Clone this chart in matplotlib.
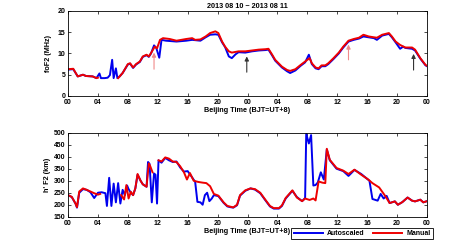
import numpy as np
import matplotlib
matplotlib.use("Agg")
import matplotlib.pyplot as plt

nan = np.nan

# --- foF2 (MHz), hours since 2013-08-10 00 BJT ---
t_fo_auto = [0, 0.7, 1.3, 2.0, 2.4, 3.3, 3.8, 4.2, 4.4, 4.9, 5.3, 5.6, 5.9, 6.1, 6.4, 6.6, 6.9, 7.3,
             8.0, 8.3, 8.7, 9.1, 9.6, 10.0, 10.5, 10.8, 11.1, 11.5, 11.8, 12.2, 12.5, 13.1,
             14.5, 15.8, 16.6, 17.7, 18.4, 19.0, 19.7, 20.1, 20.6, 21.0, 21.5, 21.9, 22.4, 22.8, 23.7,
             24.6, 25.5, 26.4, 26.8, 27.3, 27.7, 28.6, 29.3, 29.7, 30.4, 31.1, 31.7,
             32.2, 32.6, 33.1, 33.5, 33.9, 34.4, 34.8, 35.5, 36.2, 36.8, 37.5, 38.2, 38.9, 39.5,
             40.2, 40.9, 41.3, 42.0, 42.9, 43.3, 43.8, 44.4, 44.8, 45.1, 46.0, 46.4, 47.1, 47.8, 48.0]
fo_auto = [6.2, 6.3, 4.6, 5.0, 4.7, 4.6, 4.2, 5.3, 4.2, 4.2, 4.3, 4.9, 8.5, 4.2, 6.5, 4.2, 4.6, 5.4,
           7.4, 7.6, 6.6, 7.4, 8.0, 9.2, 9.6, 9.2, 10.0, 11.9, 11.3, 9.0, 13.2, 13.0,
           12.8, 13.0, 13.2, 13.0, 13.8, 14.4, 14.5, 14.4, 12.6, 11.5, 9.3, 8.9, 9.8, 10.3, 10.2,
           10.5, 10.7, 10.8, 10.9, 9.5, 8.3, 6.7, 5.8, 5.4, 6.0, 7.1, 7.9,
           9.7, 7.5, 6.5, 6.3, 7.0, 7.0, 7.5, 8.7, 10.0, 11.4, 12.8, 13.2, 13.5, 14.0,
           13.8, 13.6, 13.2, 14.2, 14.6, 13.8, 12.6, 11.1, 11.6, 11.3, 11.1, 10.7, 8.8, 7.2, 7.0]

t_fo_man = [0, 0.7, 1.3, 2.0, 2.4, 3.3, 3.8, 4.0, 5.0,
            6.7, 7.3, 8.0, 8.3, 8.7, 9.1, 9.6, 10.0, 10.5, 10.8, 11.1, 11.6, 11.9,
            12.3, 12.7, 13.6, 14.5, 15.8, 16.6, 17.0, 17.7, 18.4, 19.0, 19.7, 20.1, 20.6, 21.0, 21.5, 21.9, 22.8, 23.7,
            24.6, 25.5, 26.4, 26.8, 27.3, 27.7, 28.6, 29.3, 29.7, 30.4, 31.1, 31.7,
            32.3, 32.6, 33.1, 33.5, 33.9, 34.4, 34.8, 35.5, 36.2, 36.8, 37.5, 38.2, 38.9, 39.5,
            40.2, 40.9, 41.3, 42.0, 42.9, 43.3, 43.8, 44.4, 45.1, 46.0, 46.4, 47.1, 47.8, 48.0]
fo_man = [6.3, 6.4, 4.6, 5.0, 4.7, 4.6, 4.2, 4.3, nan,
          4.2, 5.4, 7.5, 7.7, 6.7, 7.5, 8.1, 9.3, 9.7, 9.3, 10.1, 11.6, 11.2,
          13.2, 13.6, 13.4, 13.0, 13.4, 13.6, 13.2, 13.3, 14.0, 14.8, 15.2, 14.8, 12.8, 11.6, 10.5, 10.2, 10.5, 10.5,
          10.7, 10.9, 11.0, 11.1, 9.7, 8.5, 6.9, 6.1, 5.9, 6.3, 7.3, 8.1,
          8.9, 7.7, 6.7, 6.5, 7.2, 7.2, 7.7, 8.9, 10.2, 11.6, 13.0, 13.4, 13.7, 14.4,
          14.0, 13.8, 13.7, 14.4, 14.8, 14.0, 12.8, 12.0, 11.4, 11.4, 10.9, 8.9, 7.3, 7.1]

# --- h'F2 (km) ---
t_h_auto = [0, 0.5, 1.0, 1.2, 1.5, 2.0, 2.5, 3.0, 3.5,
            4.0, 4.5, 5.0, 5.2, 5.5, 5.8, 6.1, 6.4, 6.7, 7.0,
            7.3, 7.6, 7.9, 8.1, 8.4, 8.7, 9.0, 9.3, 9.7, 10.0,
            10.5, 10.7, 10.9, 11.2, 11.5, 11.7, 11.9, 12.1, 12.5, 13.0,
            13.5, 14.0, 14.5, 15.0, 15.5, 16.0, 16.5, 17.0, 17.3, 17.7,
            18.0, 18.3, 18.6, 18.9, 19.2, 19.5, 20.1, 20.8, 21.3, 21.7,
            22.1, 22.6, 23.0, 23.7, 24.4, 25.0, 25.7, 26.4, 27.0, 27.5,
            28.2, 28.6, 29.1, 30.0, 30.6, 31.3, 31.7, 31.85, 32.2, 32.5,
            32.8, 33.1, 33.4, 33.8, 34.2, 34.6, 35.0, 35.9, 36.8, 37.5,
            38.3, 39.2, 40.1, 40.3, 40.7, 41.4, 41.8, 42.2, 42.6, 43.0,
            43.7, 44.1, 44.7, 45.4, 46.0, 46.4, 47.1, 47.5, 48.0]
h_auto = [240, 232, 205, 188, 250, 265, 262, 252, 228,
          250, 252, 248, 195, 312, 195, 288, 210, 290, 205,
          262, 240, 280, 265, 250, 240, 268, 325, 300, 285,
          275, 378, 370, 210, 330, 325, 205, 385, 375, 395,
          385, 378, 380, 355, 338, 340, 318, 295, 212, 210,
          200, 240, 250, 215, 225, 240, 236, 208, 193, 190,
          188, 198, 238, 258, 268, 263, 248, 218, 193, 184,
          184, 195, 226, 258, 232, 215, 228, 495, 455, 490,
          280, 282, 293, 335, 305, 430, 385, 350, 340, 320,
          345, 328, 305, 300, 224, 217, 245, 226, 237, 207,
          214, 200, 211, 230, 217, 214, 221, 210, 215]

t_h_man = [0, 0.5, 1.0, 1.2, 1.5, 2.0, 2.5, 3.0, 3.5, 4.0, 4.3, 5.5,
           7.1, 7.5, 7.8, 8.1, 8.4, 8.7, 9.0, 9.3, 9.7, 10.0, 10.5, 10.8, 11.0, 11.3, 11.7,
           12.1, 12.5, 13.0, 13.5, 14.0, 14.5, 15.0, 15.5, 15.9, 16.3, 16.8, 17.4, 18.0, 18.5, 19.0, 19.5,
           20.1, 20.8, 21.3, 21.7, 22.1, 22.6, 23.0, 23.7,
           24.4, 25.0, 25.7, 26.4, 27.0, 27.5, 28.2, 28.6, 29.1, 30.0, 30.6, 31.3, 31.7,
           32.3, 32.8, 33.1, 33.5, 34.0, 34.4, 34.6, 35.0, 35.9, 36.8, 37.5, 38.3, 39.2,
           40.1, 40.7, 41.6, 42.4, 43.0, 43.7, 44.1, 44.7, 45.4, 46.0, 46.4, 47.1, 47.5, 48.0]
h_man = [240, 233, 205, 190, 255, 268, 262, 255, 248, 242, 245, nan,
         240, 222, 282, 226, 254, 240, 268, 328, 300, 285, 275, 372, 360, 335, nan,
         385, 380, 397, 392, 380, 378, 360, 335, 305, 332, 300, 295, 292, 290, 277, 245,
         238, 210, 195, 192, 189, 200, 240, 260,
         268, 265, 250, 220, 195, 186, 186, 197, 228, 260, 230, 215, 226,
         220, 226, 218, 297, 292, 290, 433, 387, 353, 342, 328, 346, 325,
         306, 290, 272, 237, 207, 214, 200, 211, 230, 217, 214, 221, 210, 215]

xticks = list(range(0, 49, 4))
xticklabels = ["00", "04", "08", "12", "16", "20", "00", "04", "08", "12", "16", "20", "00"]

# arrows on foF2 panel: (hour, tail, head, colour)
arrows = [(11.5, 6.3, 10.2, "#f08a8a"), (23.9, 5.6, 9.3, "#333333"),
          (37.5, 8.5, 12.1, "#f08a8a"), (46.2, 6.1, 9.9, "#333333")]

plt.rcParams["font.family"] = ["Liberation Sans", "DejaVu Sans"]
plt.rcParams["font.weight"] = "bold"
plt.rcParams["font.size"] = 5

fig = plt.figure(figsize=(4.74, 2.43), dpi=100)
ax1 = fig.add_axes([0.1435, 0.605, 0.7574, 0.35])
ax2 = fig.add_axes([0.1435, 0.108, 0.7574, 0.346])

l_auto, = ax1.plot(t_fo_auto, fo_auto, color="#0000ee", lw=1.4)
l_man, = ax1.plot(t_fo_man, fo_man, color="#ee0000", lw=1.4)
ax2.plot(t_h_auto, h_auto, color="#0000ee", lw=1.4)
ax2.plot(t_h_man, h_man, color="#ee0000", lw=1.4)

for x, y0, y1, c in arrows:
    ax1.annotate("", xy=(x, y1), xytext=(x, y0),
                 arrowprops=dict(arrowstyle="-|>", color=c, lw=0.8, mutation_scale=6,
                                 shrinkA=0, shrinkB=0))

ax1.set_ylim(0, 20)
ax1.set_yticks([0, 5, 10, 15, 20])
ax2.set_ylim(150, 500)
ax2.set_yticks(range(150, 501, 50))

for ax in (ax1, ax2):
    ax.set_xlim(0, 48)
    ax.set_xticks(xticks)
    ax.set_xticklabels(xticklabels)
    ax.tick_params(direction="in", length=2, width=0.5, top=True, right=True, pad=2, labelsize=5)
    for s in ax.spines.values():
        s.set_linewidth(0.6)
    ax.set_xlabel("Beijing Time (BJT=UT+8)", fontsize=5.2, fontweight="bold", labelpad=1)

ax1.set_ylabel("foF2 (MHz)", fontsize=5.2, fontweight="bold", labelpad=4)
ax2.set_ylabel("h' F2 (km)", fontsize=5.2, fontweight="bold", labelpad=2)
ax1.set_title("2013 08 10 ~ 2013 08 11", fontsize=5.2, fontweight="bold", pad=2)

fig.legend([l_auto, l_man], ["Autoscaled", "Manual"], loc="center",
           bbox_to_anchor=(362 / 474, 1 - 233.5 / 243), ncol=2, fontsize=5,
           frameon=True, fancybox=False, edgecolor="black", framealpha=1,
           handlelength=4.2, columnspacing=1.2, handletextpad=0.6,
           borderpad=0.35).get_frame().set_linewidth(0.6)

fig.savefig("out.png", dpi=100)
